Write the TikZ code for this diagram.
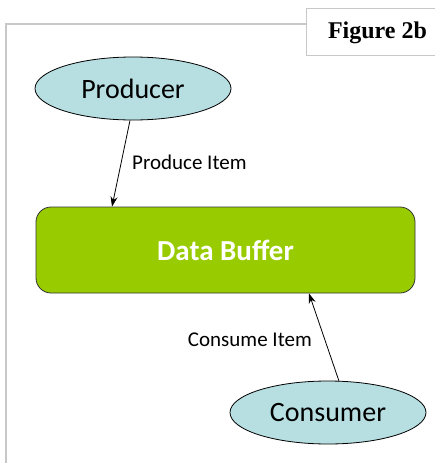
\documentclass[tikz,border=0pt]{standalone}
\usepackage{fontspec}
\setmainfont{Carlito}
\newfontfamily\figfont{Liberation Serif}
\usetikzlibrary{shapes.geometric,arrows.meta,calc}
\definecolor{ellblue}{HTML}{B7DFE2}
\definecolor{bufgreen}{HTML}{99CC00}
\definecolor{framegray}{HTML}{C8C8C8}
\tikzset{
  actor/.style={ellipse, draw=black, line width=0.8pt, fill=ellblue, minimum width=196pt, minimum height=63pt, inner sep=0pt, font=\fontsize{28}{32}\selectfont},
  bufbox/.style={rectangle, rounded corners=15pt, draw=black!80, line width=0.8pt, fill=bufgreen, minimum width=379pt, minimum height=86pt, inner sep=0pt, text=white, font=\bfseries\fontsize{29}{33}\selectfont},
  flow/.style={-{Stealth[length=10pt,width=7pt]}, line width=0.8pt},
  lbl/.style={font=\fontsize{21}{25}\selectfont, inner sep=0pt},
}
\begin{document}
\begin{tikzpicture}[x=1pt,y=-1pt]
\useasboundingbox (0,0) rectangle (435,463);
% frame
\draw[framegray, line width=1.5pt] (6,463) -- (6,24) -- (306,24);
\node[draw=framegray, line width=1pt, fill=white, minimum width=140pt, minimum height=47pt, inner sep=0pt, anchor=north west] (fig) at (306,8) {};
\node[font=\figfont\bfseries\fontsize{24}{27}\selectfont, inner sep=0pt] (figtxt) at (377.5,33) {Figure 2b};
% nodes
\node[actor] (prod) at (133,88.5) {Producer};
\node[bufbox] (buf) at (225.5,250) {Data Buffer};
\node[actor] (cons) at (328,412.5) {Consumer};
% connectors
\coordinate (pa) at ($(prod.south)+(-3,0)$);
\coordinate (pb) at ($(buf.north)+(-113.5,0)$);
\draw[flow] (pa) -- (pb);
\coordinate (ca) at ($(cons.north)+(11,0.5)$);
\coordinate (cb) at ($(buf.south)+(83.5,0)$);
\draw[flow] (ca) -- (cb);
\node[lbl, anchor=west] (plbl) at (132,162) {Produce Item};
\node[lbl, anchor=east] (clbl) at (312,340) {Consume Item};
\end{tikzpicture}
\end{document}
